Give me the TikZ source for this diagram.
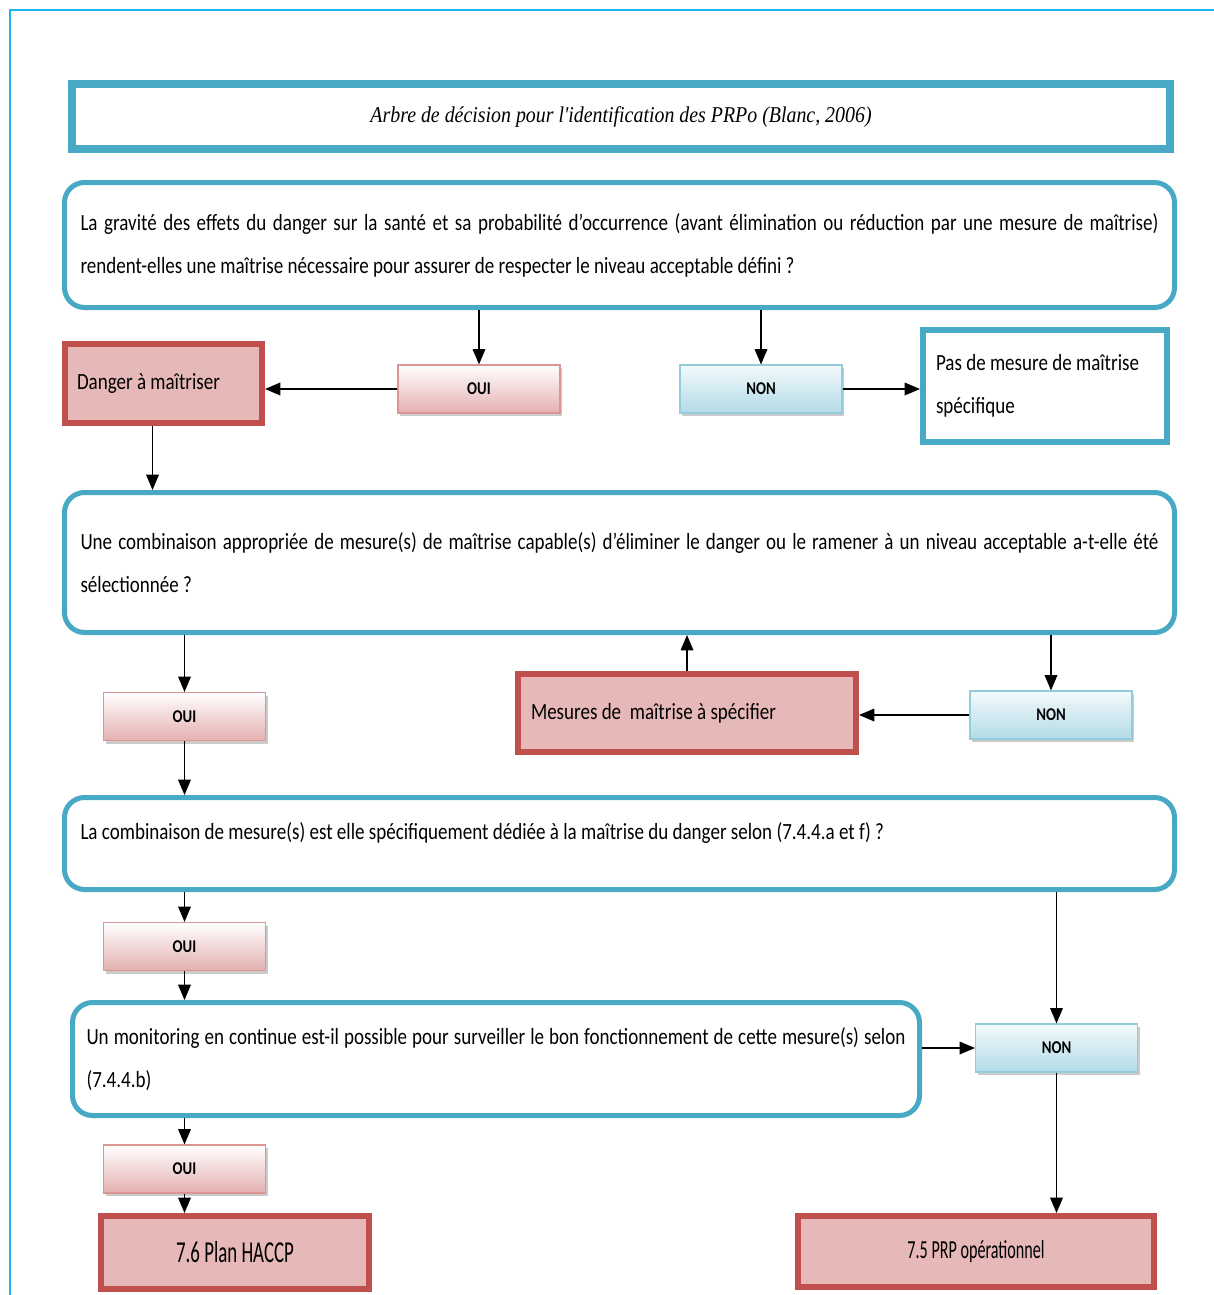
\documentclass[tikz,border=0pt]{standalone}
\usepackage{fontspec}
\usepackage{xcolor}
\usepackage{tikz}
\usetikzlibrary{arrows,shadows}

\newfontfamily\calibfont[FakeStretch=0.82]{Carlito}
\newfontfamily\resultfont[FakeStretch=0.62]{Carlito}
\newfontfamily\titlefont[FakeStretch=0.88]{Liberation Serif}

\definecolor{framecyan}{HTML}{1FB4EE}
\definecolor{aqua}{HTML}{47A9C4}
\definecolor{brick}{HTML}{C0504D}
\definecolor{rose}{HTML}{E6B9B8}
\definecolor{ouiline}{HTML}{D99694}
\definecolor{ouifill}{HTML}{E4B0B0}
\definecolor{nonline}{HTML}{93CDDD}
\definecolor{nonfill}{HTML}{B2DBE7}

\begin{document}
\begin{tikzpicture}[x=0.5pt,y=-0.5pt,
  question/.style={draw=aqua,line width=2.5pt,rounded corners=10pt,fill=white,
    align=justify,inner xsep=8pt,inner ysep=0pt,
    font=\calibfont\fontsize{11.6}{21.5}\selectfont},
  result/.style={draw=brick,line width=3pt,fill=rose,inner ysep=0pt,
    font=\calibfont\fontsize{11.6}{21.5}\selectfont},
  plainbox/.style={draw=aqua,line width=3pt,fill=white,align=flush left,inner ysep=0pt,
    font=\calibfont\fontsize{11.6}{21.5}\selectfont},
  answer/.style={minimum width=81pt,minimum height=24pt,inner sep=0pt,line width=0.6pt,
    font=\calibfont\bfseries\fontsize{9}{11}\selectfont,
    drop shadow={shadow xshift=1pt,shadow yshift=-1.5pt,fill=black!45,opacity=.45}},
  oui/.style={answer,draw=ouiline,top color=white,bottom color=ouifill},
  non/.style={answer,draw=nonline,top color=nonfill!15,bottom color=nonfill}]

\useasboundingbox (0,0) rectangle (1214,1295);
\draw[framecyan,line width=1pt] (10,1295) -- (10,10) -- (1214,10);

\node[draw=aqua,line width=4pt,minimum width=549pt,minimum height=32.5pt,
  font=\titlefont\itshape\fontsize{11.3}{13}\selectfont] (title) at (621,116.5)
  {Arbre de décision pour l'identification des PRPo (Blanc, 2006)};

\node[question,text width=539pt,minimum height=62.5pt] (q1) at (619.5,245)
  {La gravité des effets du danger sur la santé et sa probabilité d’occurrence (avant élimination ou réduction par une mesure de maîtrise)\linebreak rendent-elles une maîtrise nécessaire pour assurer de respecter le niveau acceptable défini ?};

\node[result,align=flush left,inner xsep=6pt,text width=86.5pt,minimum height=39.5pt] (danger) at (163.5,383.5)
  {Danger à maîtriser};
\node[oui] (oui1) at (479,389) {OUI};
\node[non] (non1) at (761,389) {NON};
\node[plainbox,inner xsep=6.5pt,text width=109pt,minimum height=56pt] (pas) at (1045,386)
  {Pas de mesure de maîtrise\\spécifique};

\node[question,text width=539pt,minimum height=70pt] (q2) at (619.5,562.5)
  {Une combinaison appropriée de mesure(s) de maîtrise capable(s) d’éliminer le danger ou le ramener à un niveau acceptable a-t-elle été\linebreak sélectionnée ?};

\node[oui] (oui2) at (184.5,716.5) {OUI};
\node[result,align=flush left,inner xsep=6.5pt,text width=156pt,minimum height=39pt] (mesures) at (687,713)
  {Mesures de \ maîtrise à spécifier};
\node[non] (non2) at (1051,715) {NON};

\node[question,text width=539pt,minimum height=46pt,text depth=12.5pt] (q3) at (619.5,843.5)
  {La combinaison de mesure(s) est elle spécifiquement dédiée à la maîtrise du danger selon (7.4.4.a et f) ?};

\node[oui] (oui3) at (184.5,946.5) {OUI};
\node[non] (non3) at (1056.5,1048) {NON};

\node[question,inner xsep=7pt,text width=409.5pt,minimum height=56.5pt] (q4) at (496,1059)
  {Un monitoring en continue est-il possible pour surveiller le bon fonctionnement de cette mesure(s) selon\linebreak (7.4.4.b)};

\node[oui] (oui4) at (184.5,1169) {OUI};

\node[result,minimum width=134pt,minimum height=36.5pt,font=\resultfont\fontsize{15.2}{16}\selectfont] (haccp) at (235,1252.5)
  {7.6 Plan HACCP};
\node[result,minimum width=178pt,minimum height=35.5pt,font=\resultfont\fontsize{13}{14}\selectfont] (prp) at (976,1251.5)
  {7.5 PRP opérationnel};

\begin{scope}[>=triangle 45,line width=0.75pt]
    \draw[->] (oui1.north |- q1.south) -- (oui1.north);
    \draw[->] (non1.north |- q1.south) -- (non1.north);
    \draw[->] (oui1.west) -- (oui1.west -| danger.east);
    \draw[->] (non1.east) -- (non1.east -| pas.west);
    \draw[->] ([xshift=-5.5pt]danger.south) -- ([xshift=-5.5pt]danger.south |- q2.north);

    \draw[->] (oui2.north |- q2.south) -- (oui2.north);
    \draw[->] (oui2.south) -- (oui2.south |- q3.north);
    \draw[->] (mesures.north) -- (mesures.north |- q2.south);
    \draw[->] (non2.north |- q2.south) -- (non2.north);
    \draw[->] (non2.west) -- (non2.west -| mesures.east);

    \draw[->] (oui3.north |- q3.south) -- (oui3.north);
    \draw[->] (oui3.south) -- (oui3.south |- q4.north);
    \draw[->] (non3.north |- q3.south) -- (non3.north);
    \draw[->] (q4.east |- non3.west) -- (non3.west);
    \draw[->] (non3.south) -- (non3.south |- prp.north);

    \draw[->] (oui4.north |- q4.south) -- (oui4.north);
    \draw[->] (oui4.south) -- (oui4.south |- haccp.north);
\end{scope}
\end{tikzpicture}
\end{document}
